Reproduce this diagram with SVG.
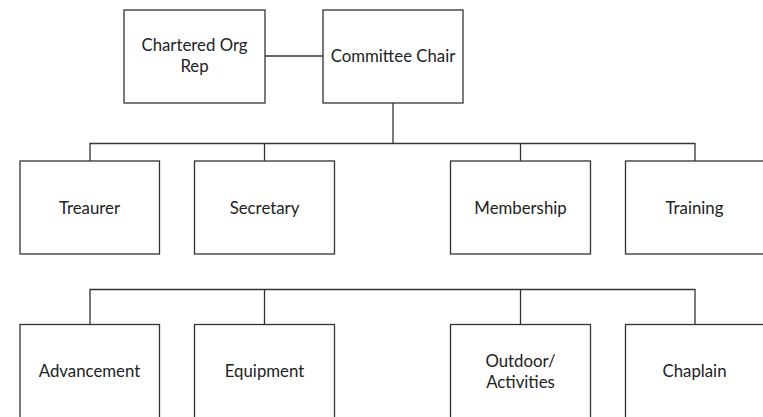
<svg xmlns="http://www.w3.org/2000/svg" width="763" height="417" viewBox="0 0 763 417">
<style>
.box{fill:#ffffff;stroke:#333333;stroke-width:1.3}
.ln{fill:none;stroke:#333333;stroke-width:1.3}
.t{font-family:Lato,"Open Sans","Liberation Sans",sans-serif;font-size:16.8px;fill:#222222;text-anchor:middle}
</style>
<rect x="0" y="0" width="763" height="417" fill="#ffffff"/>
<g id="connectors">
<line class="ln" x1="265" y1="56" x2="323" y2="56"/>
<line class="ln" x1="393" y1="103" x2="393" y2="143.5"/>
<polyline class="ln" points="90,161 90,143.5 695,143.5 695,161"/>
<line class="ln" x1="264.5" y1="143.5" x2="264.5" y2="161"/>
<line class="ln" x1="520.5" y1="143.5" x2="520.5" y2="161"/>
<polyline class="ln" points="90,324.5 90,289.5 695,289.5 695,324.5"/>
<line class="ln" x1="264.5" y1="289.5" x2="264.5" y2="324.5"/>
<line class="ln" x1="520.5" y1="289.5" x2="520.5" y2="324.5"/>
</g>
<g id="chartered-org-rep"><rect class="box" x="124" y="10" width="141" height="93"/><text class="t" x="194.5" y="51">Chartered Org</text><text class="t" x="194.5" y="72">Rep</text></g>
<g id="committee-chair"><rect class="box" x="323" y="10" width="140" height="93"/><text class="t" x="393" y="62">Committee Chair</text></g>
<g id="treaurer"><rect class="box" x="20" y="161" width="139.5" height="93"/><text class="t" x="89.5" y="214">Treaurer</text></g>
<g id="secretary"><rect class="box" x="194.5" y="161" width="140" height="93"/><text class="t" x="264.5" y="214">Secretary</text></g>
<g id="membership"><rect class="box" x="450.5" y="161" width="140" height="93"/><text class="t" x="520.5" y="214">Membership</text></g>
<g id="training"><rect class="box" x="625.5" y="161" width="142" height="93"/><text class="t" x="694.5" y="214">Training</text></g>
<g id="advancement"><rect class="box" x="20" y="324.5" width="139.5" height="100"/><text class="t" x="89.5" y="377">Advancement</text></g>
<g id="equipment"><rect class="box" x="194.5" y="324.5" width="140" height="100"/><text class="t" x="264.5" y="377">Equipment</text></g>
<g id="outdoor-activities"><rect class="box" x="450.5" y="324.5" width="140" height="100"/><text class="t" x="520.5" y="367">Outdoor/</text><text class="t" x="520.5" y="388">Activities</text></g>
<g id="chaplain"><rect class="box" x="625.5" y="324.5" width="142" height="100"/><text class="t" x="694.5" y="377">Chaplain</text></g>
</svg>
